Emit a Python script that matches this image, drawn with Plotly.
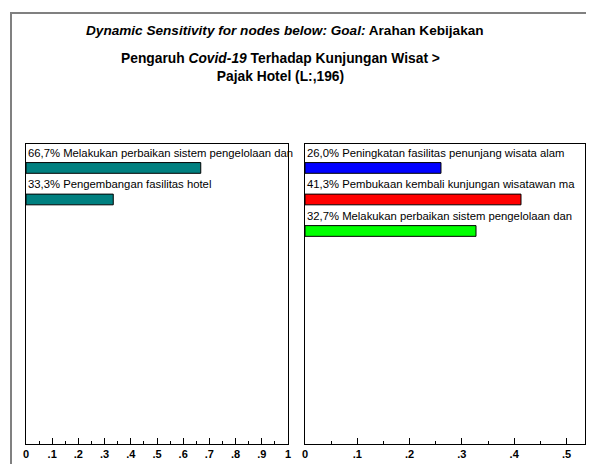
import plotly.graph_objects as go

left_labels = ["Melakukan perbaikan sistem pengelolaan dan", "Pengembangan fasilitas hotel"]
left_values = [0.667, 0.333]
left_colors = ["#008080", "#008080"]

right_labels = ["Peningkatan fasilitas penunjang wisata alam",
                "Pembukaan kembali kunjungan wisatawan ma",
                "Melakukan perbaikan sistem pengelolaan dan"]
right_values = [0.260, 0.413, 0.327]
right_colors = ["#0000FF", "#FF0000", "#00FF00"]

left_ticks = [0, 0.1, 0.2, 0.3, 0.4, 0.5, 0.6, 0.7, 0.8, 0.9, 1.0]
left_ticktext = ["0", ".1", ".2", ".3", ".4", ".5", ".6", ".7", ".8", ".9", "1"]
right_ticks = [0, 0.1, 0.2, 0.3, 0.4, 0.5]
right_ticktext = ["0", ".1", ".2", ".3", ".4", ".5"]

# page body has an 8px margin: figure covers window pixels 8..594 x 8..464
OFF = 8
W, H = 594 - OFF, 464 - OFF

def px(x):
    return (x - OFF) / W

def py(y):
    return 1 - (y - OFF) / H

LBL_FONT = "Liberation Sans, Arial, sans-serif"
TTL_FONT = "Liberation Sans, Arial, sans-serif"

fig = go.Figure()
fig.add_trace(go.Bar(x=left_values, y=left_labels, orientation="h",
                     marker=dict(color=left_colors, line=dict(color="black", width=1)),
                     width=0.34, xaxis="x", yaxis="y", hoverinfo="skip"))
fig.add_trace(go.Bar(x=right_values, y=right_labels, orientation="h",
                     marker=dict(color=right_colors, line=dict(color="black", width=1)),
                     width=0.34, xaxis="x2", yaxis="y2", hoverinfo="skip"))

def pct(v):
    return ("%.1f%%" % (v * 100)).replace(".", ",")

ann = []
for lab, v in zip(left_labels, left_values):
    ann.append(dict(x=0, y=lab, xref="x", yref="y", text=pct(v) + " " + lab,
                    showarrow=False, xanchor="left", yanchor="middle", xshift=0, yshift=15,
                    font=dict(family=LBL_FONT, size=11.3, color="black")))
for lab, v in zip(right_labels, right_values):
    ann.append(dict(x=0, y=lab, xref="x2", yref="y2", text=pct(v) + " " + lab,
                    showarrow=False, xanchor="left", yanchor="middle", xshift=0, yshift=15,
                    font=dict(family=LBL_FONT, size=11.3, color="black")))

ann.append(dict(x=px(284.5), y=py(30), xref="paper", yref="paper",
                text="<b><i>Dynamic Sensitivity for nodes below: Goal:</i> Arahan Kebijakan</b>",
                showarrow=False, xanchor="center", yanchor="middle",
                font=dict(family=TTL_FONT, size=13.6, color="black")))
ann.append(dict(x=px(280), y=py(68), xref="paper", yref="paper",
                text="<b>Pengaruh <i>Covid-19</i> Terhadap Kunjungan Wisat &gt;<br>Pajak Hotel (L:,196)</b>",
                showarrow=False, xanchor="center", yanchor="middle", align="center",
                font=dict(family=TTL_FONT, size=13.8, color="black")))

ydom = [py(444), py(144)]
axis_common = dict(showline=True, linecolor="black", linewidth=1, mirror=True,
                   ticks="inside", ticklen=6, tickcolor="black", tickwidth=1,
                   showgrid=False, zeroline=False,
                   tickfont=dict(family="Liberation Sans, Arial, sans-serif", size=11,
                                 color="black", weight="bold"),
                   fixedrange=True)

fig.update_layout(
    width=W, height=H,
    margin=dict(l=0, r=0, t=0, b=0, autoexpand=False),
    paper_bgcolor="white", plot_bgcolor="white",
    showlegend=False,
    annotations=ann,
    xaxis=dict(domain=[px(26), px(288)], range=[0, 1], anchor="y",
               tickvals=left_ticks, ticktext=left_ticktext,
               minor=dict(dtick=0.05, tick0=0, ticks="inside", ticklen=3, tickcolor="black"),
               **axis_common),
    yaxis=dict(domain=ydom, anchor="x", range=[8.76, -0.76], showticklabels=False,
               showline=True, linecolor="black", linewidth=1, mirror=True,
               ticks="", showgrid=False, zeroline=False, fixedrange=True),
    xaxis2=dict(domain=[px(305), px(585)], range=[0, 0.5354], anchor="y2",
                tickvals=right_ticks, ticktext=right_ticktext,
                minor=dict(dtick=0.05, tick0=0, ticks="inside", ticklen=3, tickcolor="black"),
                **axis_common),
    yaxis2=dict(domain=ydom, anchor="x2", range=[8.76, -0.76], showticklabels=False,
                showline=True, linecolor="black", linewidth=1, mirror=True,
                ticks="", showgrid=False, zeroline=False, fixedrange=True),
    shapes=[dict(type="rect", xref="paper", yref="paper",
                 x0=px(11), x1=1.05, y0=-0.05, y1=py(13),
                 line=dict(color="#808080", width=2), fillcolor="rgba(0,0,0,0)", layer="below")],
)

fig.write_html("out.html")
